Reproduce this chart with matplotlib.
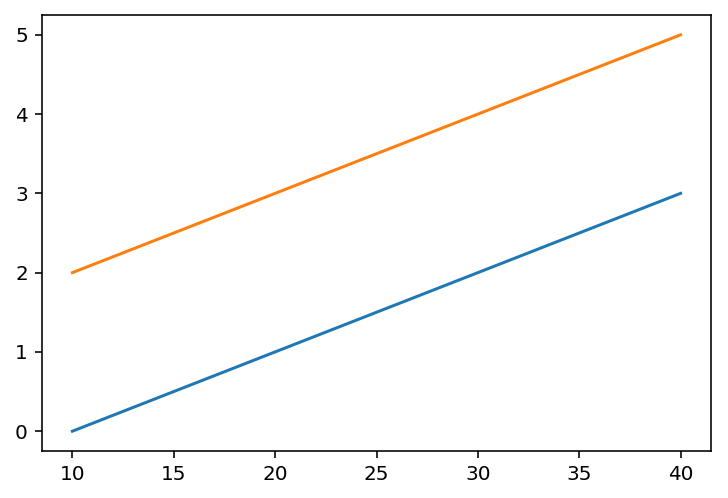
import matplotlib
matplotlib.use("Agg")
import matplotlib.pyplot as plt

x = [10, 20, 30, 40]
y1 = [0, 1, 2, 3]
y2 = [2, 3, 4, 5]

fig = plt.figure(figsize=(728/144, 498/144), dpi=144)
ax = fig.add_axes([42/728, 1-451/498, (711-42)/728, (451-15)/498])
ax.plot(x, y1)
ax.plot(x, y2)
fig.savefig("out.png", dpi=144)
